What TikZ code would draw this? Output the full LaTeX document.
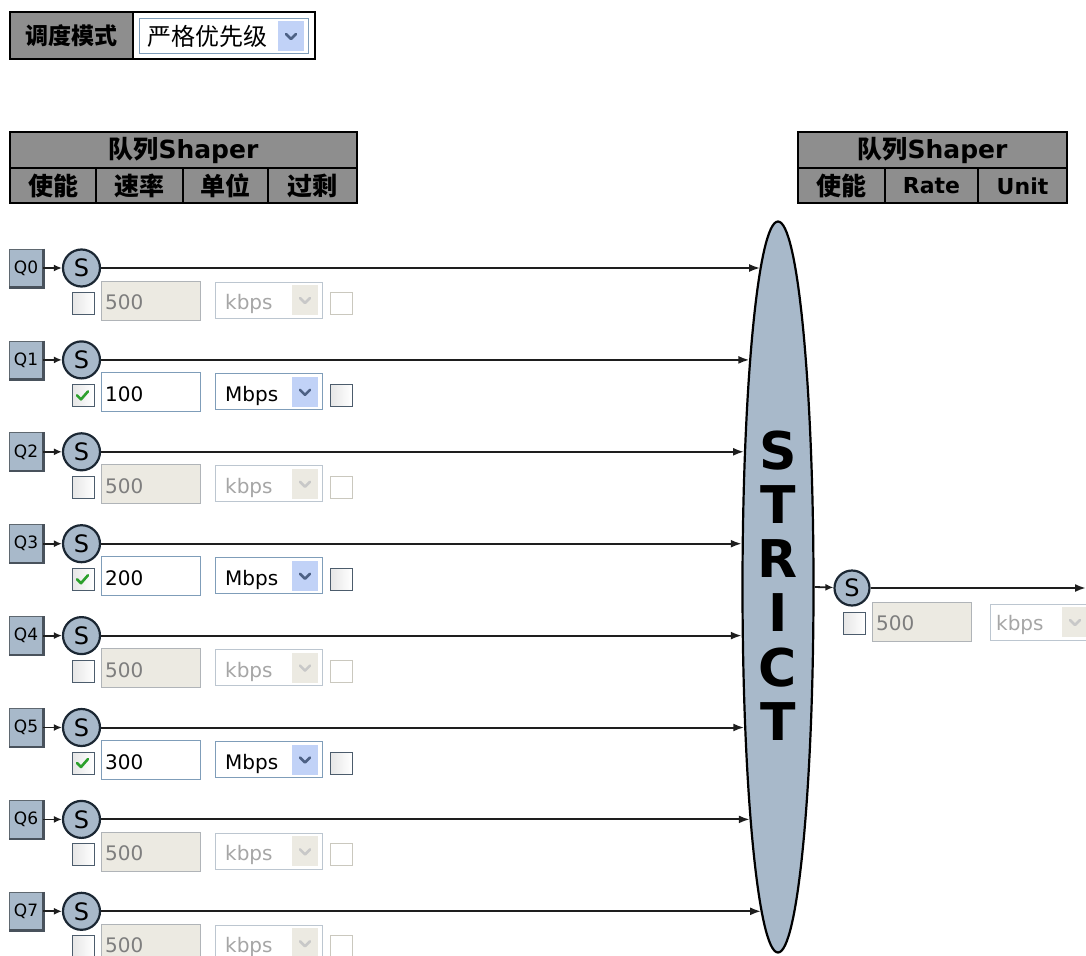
\documentclass[tikz,border=0pt]{standalone}
\usepackage{fontspec}
\setmainfont{DejaVu Sans}
\newfontfamily\cjk{Noto Sans CJK SC}
\usetikzlibrary{arrows.meta,shapes.geometric}
\definecolor{hdrgray}{HTML}{8E8E8E}
\definecolor{steel}{HTML}{A8B9CA}
\definecolor{steeldark}{HTML}{1B2733}
\definecolor{disfill}{HTML}{ECEAE2}
\definecolor{distext}{HTML}{7E7E7E}
\definecolor{disunit}{HTML}{A6A6A6}
\definecolor{disborder}{HTML}{B0B4B8}
\definecolor{dissel}{HTML}{BCC6D0}
\definecolor{discb}{HTML}{CAC8BE}
\definecolor{enborder}{HTML}{7F9DB9}
\definecolor{btn}{HTML}{C1D2F7}
\definecolor{chev}{HTML}{4D6185}
\definecolor{dischev}{HTML}{C8C8C8}
\definecolor{cbborder}{HTML}{4C5C6C}
\definecolor{checkgreen}{HTML}{2CA02C}
\definecolor{arrowcol}{HTML}{1E1E1E}
\tikzset{
  hdrcell/.style={draw=black, line width=1.5pt, fill=hdrgray},
  hdrtext/.style={inner sep=0pt, font=\fontsize{25}{28}\selectfont},
  qbox/.style={rectangle, draw=steeldark!70, line width=0.8pt, fill=steel, minimum width=34pt, minimum height=38pt, inner sep=0pt, font=\fontsize{17}{20}\selectfont},
  scirc/.style={circle, draw=steeldark, line width=2.2pt, fill=steel, minimum size=37pt, inner sep=0pt, font=\fontsize{24}{26}\selectfont},
  mainarr/.style={draw=arrowcol, line width=2pt, -{Latex[length=11pt,width=8pt]}},
  smallarr/.style={draw=arrowcol, line width=1.8pt, -{Latex[length=8pt,width=7pt]}},
  cboxen/.style={rectangle, draw=cbborder, line width=0.9pt, left color=white!80!gray, right color=white, minimum width=22pt, minimum height=22pt, inner sep=0pt},
  cboxdis/.style={rectangle, draw=discb, line width=0.9pt, fill=white, minimum width=22pt, minimum height=22pt, inner sep=0pt},
  inpen/.style={rectangle, draw=enborder, line width=0.9pt, fill=white, minimum width=99pt, minimum height=39pt, inner sep=0pt},
  inpdis/.style={rectangle, draw=disborder, line width=0.9pt, fill=disfill, minimum width=99pt, minimum height=39pt, inner sep=0pt},
  selen/.style={rectangle, draw=enborder, line width=0.9pt, fill=white, minimum width=107pt, minimum height=36pt, inner sep=0pt},
  seldis/.style={rectangle, draw=dissel, line width=0.9pt, fill=white, minimum width=107pt, minimum height=36pt, inner sep=0pt},
  btnen/.style={rectangle, fill=btn, minimum width=26pt, minimum height=30pt, inner sep=0pt},
  btndis/.style={rectangle, fill=disfill, minimum width=26pt, minimum height=30pt, inner sep=0pt},
  chevron/.style={line width=2.6pt, line cap=round, line join=round},
  check/.style={draw=checkgreen, line width=2.6pt, line cap=round, line join=round},
  fieldtext/.style={inner sep=0pt, anchor=base west, font=\fontsize{20}{24}\selectfont},
  letter/.style={inner sep=0pt, font=\fontsize{52}{52}\selectfont\bfseries}
}
\begin{document}
\begin{tikzpicture}[x=1pt,y=-1pt]
\clip (0,0) rectangle (1086,955);
\fill[white] (0,0) rectangle (1086,955);

% ---------- mode selector ----------
\draw[hdrcell] (10,12) rectangle (133,59);
\node[hdrtext, font=\fontsize{23}{26}\selectfont\cjk\bfseries] (modelabel) at (71.5,35.5) {调度模式};
\draw[draw=black, line width=1.5pt, fill=white] (133,12) rectangle (315,59);
\draw[draw=enborder, line width=0.9pt] (139,18) rectangle (308,53);
\node[inner sep=0pt, anchor=west, font=\fontsize{24}{26}\selectfont\cjk] (modeval) at (147,36) {严格优先级};
\node[btnen] (modebtn) at (291,36) {};
\draw[chevron, chev] ([shift={(-5,-2)}]modebtn.center) -- ([shift={(0,3)}]modebtn.center) -- ([shift={(5,-2)}]modebtn.center);

% ---------- left header ----------
\draw[hdrcell] (10,132) rectangle (357,203);
\draw[black, line width=1.5pt] (10,168) -- (357,168);
\foreach \xx in {96,183,268} \draw[black, line width=1.5pt] (\xx,168) -- (\xx,203);
\node[hdrtext] (lhead) at (183.5,150) {{\cjk\bfseries 队列}{\bfseries Shaper}};
\node[hdrtext, font=\fontsize{25}{28}\selectfont\cjk\bfseries] (lh1) at (53,186) {使能};
\node[hdrtext, font=\fontsize{25}{28}\selectfont\cjk\bfseries] (lh2) at (139.5,186) {速率};
\node[hdrtext, font=\fontsize{25}{28}\selectfont\cjk\bfseries] (lh3) at (225.5,186) {单位};
\node[hdrtext, font=\fontsize{25}{28}\selectfont\cjk\bfseries] (lh4) at (312.5,186) {过剩};

% ---------- right header ----------
\draw[hdrcell] (798,132) rectangle (1067,203);
\draw[black, line width=1.5pt] (798,168) -- (1067,168);
\foreach \xx in {885,978} \draw[black, line width=1.5pt] (\xx,168) -- (\xx,203);
\node[hdrtext] (rhead) at (932.5,150) {{\cjk\bfseries 队列}{\bfseries Shaper}};
\node[hdrtext, font=\fontsize{25}{28}\selectfont\cjk\bfseries] (rh1) at (841.5,186) {使能};
\node[hdrtext, font=\fontsize{22}{26}\selectfont\bfseries] (rh2) at (931.5,186) {Rate};
\node[hdrtext, font=\fontsize{22}{26}\selectfont\bfseries] (rh3) at (1022.5,186) {Unit};

% ---------- STRICT ellipse ----------
\node[ellipse, draw=black, line width=2.2pt, fill=steel, minimum width=71pt, minimum height=731pt, inner sep=0pt] (strict) at (778,587) {};
\node[letter] (L1) at (778,451) {S};
\node[letter] (L2) at (778,505) {T};
\node[letter] (L3) at (778,559) {R};
\node[letter] (L4) at (778,613) {I};
\node[letter] (L5) at (778,668) {C};
\node[letter] (L6) at (778,722) {T};

% ---------- queue rows ----------
\foreach \i/\en/\rate/\unit in {0/0/500/kbps,1/1/100/Mbps,2/0/500/kbps,3/1/200/Mbps,4/0/500/kbps,5/1/300/Mbps,6/0/500/kbps,7/0/500/kbps}{
  \pgfmathsetmacro\y{268+91.9*\i}
  \pgfmathsetmacro\ex{778-36.5*sqrt(1-((\y-587)/366)^2)}
  \node[qbox] (Q\i) at (26,\y) {Q\i};
  \draw[line width=2.5pt, steeldark!80] (Q\i.north east) -- (Q\i.south east) -- (Q\i.south west);
  \node[scirc] (S\i) at (81.5,\y) {S};
  \draw[smallarr] (Q\i) -- (S\i);
  \coordinate (E\i) at (\ex,\y);
  \draw[mainarr] (S\i) -- (E\i);
  \node[cboxen] (C\i) at (83,\y+35.5) {};
  \ifnum\en=1
    \draw[check] ([shift={(-6,0)}]C\i.center) -- ([shift={(-2,4)}]C\i.center) -- ([shift={(5,-4)}]C\i.center);
    \node[inpen] (I\i) at (150.5,\y+32.5) {};
    \node[fieldtext] (IT\i) at (105,\y+41.5) {\rate};
    \node[selen] (U\i) at (268.5,\y+32) {};
    \node[btnen] (B\i) at (305,\y+32) {};
    \draw[chevron, chev] ([shift={(-5,-2)}]B\i.center) -- ([shift={(0,3)}]B\i.center) -- ([shift={(5,-2)}]B\i.center);
    \node[fieldtext] (UT\i) at (225,\y+41.5) {\unit};
    \node[cboxen] (X\i) at (341,\y+35.5) {};
  \else
    \node[inpdis] (I\i) at (150.5,\y+32.5) {};
    \node[fieldtext, text=distext] (IT\i) at (105,\y+41.5) {\rate};
    \node[seldis] (U\i) at (268.5,\y+32) {};
    \node[btndis] (B\i) at (305,\y+32) {};
    \draw[chevron, dischev] ([shift={(-5,-2)}]B\i.center) -- ([shift={(0,3)}]B\i.center) -- ([shift={(5,-2)}]B\i.center);
    \node[fieldtext, text=disunit] (UT\i) at (225,\y+41.5) {\unit};
    \node[cboxdis] (X\i) at (341,\y+35.5) {};
  \fi
}

% ---------- output shaper ----------
\node[scirc, minimum size=35pt] (SR) at (852,588) {S};
\draw[smallarr] (strict.east) -- (SR);
\coordinate (out) at (1086,588);
\draw[mainarr] (SR) -- (out);
\node[cboxen] (CR) at (854,623.5) {};
\node[inpdis] (IR) at (922,622) {};
\node[fieldtext, text=distext] (ITR) at (876,630) {500};
\node[seldis] (UR) at (1043.5,622) {};
\node[btndis] (BR) at (1075,622) {};
\draw[chevron, dischev] ([shift={(-5,-2)}]BR.center) -- ([shift={(0,3)}]BR.center) -- ([shift={(5,-2)}]BR.center);
\node[fieldtext, text=disunit] (UTR) at (996,630) {kbps};
\end{tikzpicture}
\end{document}
